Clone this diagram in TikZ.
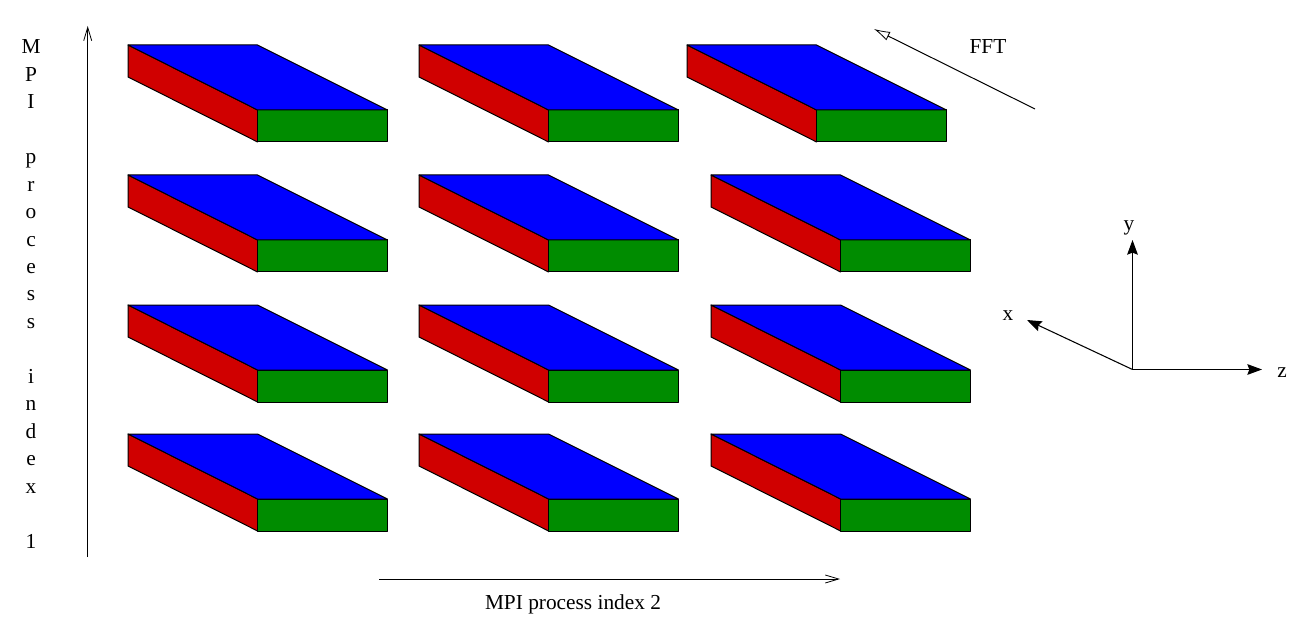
\documentclass[tikz,border=0pt]{standalone}
\usepackage{fontspec}
\setmainfont{Liberation Serif}
\usetikzlibrary{arrows.meta}
\definecolor{slabred}{HTML}{D00000}
\definecolor{slabgreen}{HTML}{008C00}
\definecolor{slabblue}{HTML}{0000FF}
\tikzset{
  edge/.style={draw=black,line width=0.75pt,line join=round},
  lbl/.style={inner sep=0pt,font=\fontsize{16}{20.6}\selectfont},
  barbarrow/.style={line width=0.75pt,-{Straight Barb[length=10pt,width=6pt,line width=0.6pt]}},
  openarrow/.style={line width=0.75pt,-{Latex[open,length=12pt,width=7pt,line width=0.6pt]}},
  axisarrow/.style={line width=0.8pt,-{Stealth[length=11pt,width=8pt,inset=1.5pt]}},
}
\newcommand{\slab}[2]{%
  \begin{scope}[shift={(#1,#2)}]
    \fill[slabred,edge] (0,0) -- (129.6,65) -- (129.6,97) -- (0,32) -- cycle;
    \fill[slabgreen,edge] (129.6,65) -- (259.4,65) -- (259.4,97) -- (129.6,97) -- cycle;
    \fill[slabblue,edge] (0,0) -- (129.6,0) -- (259.4,65) -- (129.6,65) -- cycle;
  \end{scope}}
\begin{document}
\begin{tikzpicture}[x=0.75pt,y=-0.75pt]
\useasboundingbox (0,0) rectangle (1311,624);
\foreach \y in {175,305,434}{\foreach \x in {128,419,711}{\slab{\x}{\y}}}
\slab{128}{45}\slab{419}{45}\slab{687}{45}

\coordinate (v0) at (87.7,557);  \coordinate (v1) at (87.7,26);
\coordinate (h0) at (379,579); \coordinate (h1) at (840,579);
\coordinate (f0) at (1035,109);\coordinate (f1) at (874,29);
\coordinate (o) at (1132.5,369.5); \coordinate (ay) at (1132.5,240);
\coordinate (az) at (1262,369.5);\coordinate (ax) at (1027,320);

\draw[barbarrow] (v0) -- (v1);
\draw[barbarrow] (h0) -- (h1);
\draw[openarrow] (f0) -- (f1);
\draw[axisarrow] (o) -- (ay);
\draw[axisarrow] (o) -- (az);
\draw[axisarrow] (o) -- (ax);

\node[lbl,anchor=north,align=center] (vlabel) at (31,39.5)
  {M\\P\\I\\~\\p\\r\\o\\c\\e\\s\\s\\~\\i\\n\\d\\e\\x\\~\\1};
\node[lbl] (hlabel) at (573,604.5) {MPI process index 2};
\node[lbl] (fft) at (988,47) {FFT};
\node[lbl] (ylabel) at (1129,228) {y};
\node[lbl] (xlabel) at (1008,316) {x};
\node[lbl] (zlabel) at (1282,373) {z};
\end{tikzpicture}
\end{document}
